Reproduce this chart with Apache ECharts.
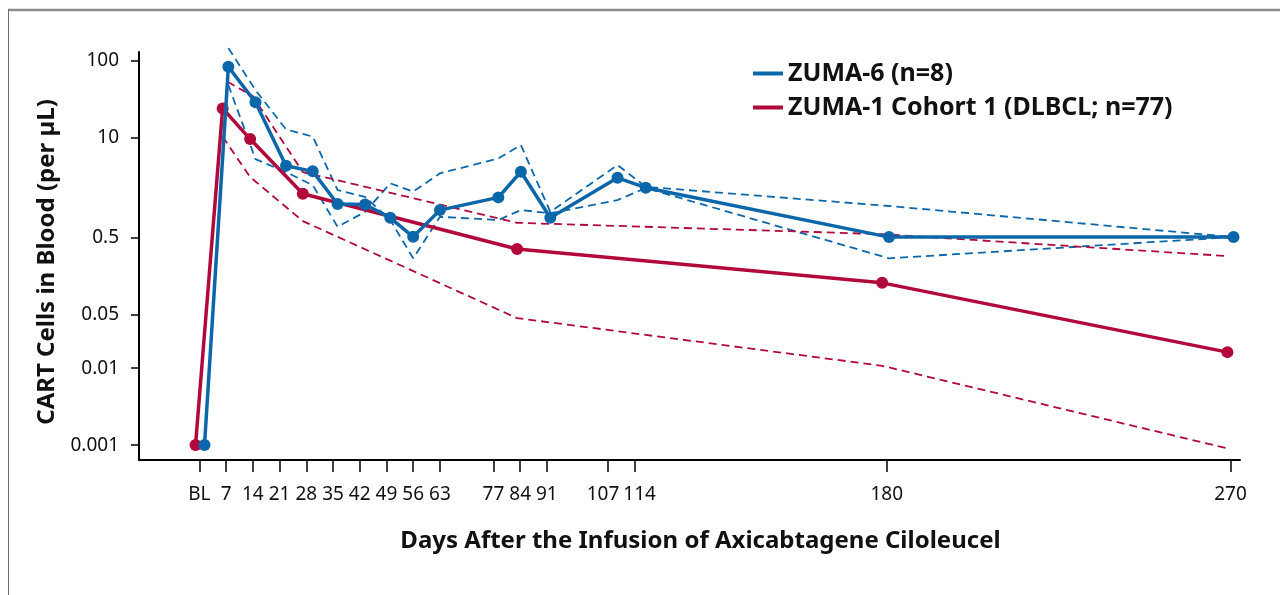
<!DOCTYPE html>
<html>
<head>
<meta charset="utf-8">
<script src="https://cdn.jsdelivr.net/npm/echarts@6/dist/echarts.min.js"></script>
<style>
html,body{margin:0;padding:0;background:#fff;}
#c{width:1280px;height:595px;}
</style>
</head>
<body>
<div id="c"></div>
<script>
// ---- data ----
const xTickDays = [0, 7, 14, 21, 28, 35, 42, 49, 56, 63, 77, 84, 91, 107, 114, 180, 270];
const xTickLabels = ['BL', '7', '14', '21', '28', '35', '42', '49', '56', '63', '77', '84', '91', '107', '114', '180', '270'];
const yTickValues = [0.001, 0.01, 0.05, 0.5, 10, 100];
const yTickLabels = ['0.001', '0.01', '0.05', '0.5', '10', '100'];

// ZUMA-6 (n=8): mean and the two dashed bounds
const zuma6Days = [1.35, 7.6, 14.7, 22.7, 29.7, 36.2, 43.4, 50.0, 56.0, 63.0, 78.3, 84.2, 91.9, 109.5, 116.9, 180.6, 270.8];
const zuma6Mean = [0.001, 83.5, 28.8, 4.3, 3.64, 1.37, 1.35, 0.906, 0.513, 1.14, 1.67, 3.6, 0.906, 3.0, 2.23, 0.508, 0.508];
const zuma6BandDays = [7.6, 14.7, 22.7, 29.7, 36.2, 43.4, 50.0, 56.0, 63.0, 78.3, 84.2, 91.9, 109.5, 116.9, 180.6, 270.8];
const zuma6BandA = [146, 41.6, 12.8, 10.3, 2.08, 1.69, 0.846, 0.269, 0.933, 0.846, 1.14, 1.04, 1.54, 2.21, 0.269, 0.508];
const zuma6BandB = [48.4, 5.26, 3.56, 2.41, 0.692, 1.08, 2.54, 1.98, 3.43, 5.37, 8.0, 1.08, 4.40, 2.29, 1.29, 0.508];

// ZUMA-1 Cohort 1 (DLBCL; n=77): mean and dashed bounds
const zuma1Days = [-1, 6.1, 13.3, 27.1, 83.2, 178.8, 269.2];
const zuma1Mean = [0.001, 24.0, 9.58, 1.86, 0.355, 0.129, 0.0162];
const zuma1UpperDays = [7.4, 14.0, 27.1, 83.2, 178.8, 269.2];
const zuma1Upper = [53.3, 34.7, 3.56, 0.78, 0.555, 0.288];
const zuma1LowerDays = [6.1, 13.3, 27.1, 83.2, 178.8, 269.2];
const zuma1Lower = [10.3, 3.07, 0.821, 0.0449, 0.01076, 0.000906];

const BLUE = '#0b67aa';
const RED = '#b1093b';
const FONT = 'Noto Sans';

function pairs(xs, ys) { return xs.map((x, i) => [x, ys[i]]); }

const dashStyle = (c) => ({ color: c, width: 1.8, type: [8, 5] });

const chart = echarts.init(document.getElementById('c'), null, { renderer: 'canvas' });
chart.setOption({
  animation: false,
  backgroundColor: '#fff',
  textStyle: { fontFamily: FONT },
  grid: { left: 139, right: 40, top: 52, bottom: 135, containLabel: false, outerBoundsMode: 'none' },
  legend: {
    data: ['ZUMA-6 (n=8)', 'ZUMA-1 Cohort 1 (DLBCL; n=77)'],
    orient: 'vertical',
    left: 753,
    top: 61,
    padding: 0,
    itemWidth: 30,
    itemHeight: 4,
    itemGap: 9,
    icon: 'rect',
    textStyle: { fontFamily: FONT, fontSize: 25, fontWeight: 'bold', color: '#111' }
  },
  xAxis: {
    type: 'value',
    min: -15.8,
    max: 272.5,
    name: 'Days After the Infusion of Axicabtagene Ciloleucel',
    nameLocation: 'middle',
    nameGap: 69,
    nameTextStyle: { fontFamily: FONT, fontSize: 24, fontWeight: 'bold', color: '#111', padding: [0, 0, 0, 22] },
    axisLine: { show: true, onZero: false, lineStyle: { color: '#000', width: 2 } },
    axisTick: { show: true, customValues: xTickDays, length: 12, lineStyle: { color: '#000', width: 1.5 } },
    axisLabel: {
      customValues: xTickDays,
      margin: 25,
      fontFamily: FONT, fontSize: 19, color: '#111',
      formatter: (v) => {
        const i = xTickDays.indexOf(Math.round(v));
        if (i < 0) return '';
        const t = xTickLabels[i];
        if (t === '107') return t + '\u00a0\u00a0';
        if (t === '114') return '\u00a0\u00a0' + t;
        return t;
      }
    },
    splitLine: { show: false }
  },
  yAxis: {
    type: 'log',
    logBase: 10,
    min: 0.00064,
    max: 130,
    name: 'CART Cells in Blood (per µL)',
    nameLocation: 'middle',
    nameGap: 73,
    nameTextStyle: { fontFamily: FONT, fontSize: 24, fontWeight: 'bold', color: '#111', padding: [0, 12, 0, 0] },
    axisLine: { show: true, onZero: false, lineStyle: { color: '#000', width: 2 } },
    axisTick: { show: true, customValues: yTickValues, length: 8, lineStyle: { color: '#000', width: 1.5 } },
    axisLabel: {
      customValues: yTickValues,
      margin: 20,
      fontFamily: FONT, fontSize: 19, color: '#111',
      formatter: (v) => {
        let best = 0, bd = Infinity;
        yTickValues.forEach((t, i) => { const d = Math.abs(Math.log10(t) - Math.log10(v)); if (d < bd) { bd = d; best = i; } });
        return yTickLabels[best];
      }
    },
    splitLine: { show: false },
    minorTick: { show: false }
  },
  series: [
    { name: 'zuma6A', type: 'line', data: pairs(zuma6BandDays, zuma6BandA), showSymbol: false, symbol: 'none', lineStyle: dashStyle(BLUE), clip: false, z: 2, silent: true },
    { name: 'zuma6B', type: 'line', data: pairs(zuma6BandDays, zuma6BandB), showSymbol: false, symbol: 'none', lineStyle: dashStyle(BLUE), z: 2, silent: true },
    { name: 'zuma1U', type: 'line', data: pairs(zuma1UpperDays, zuma1Upper), showSymbol: false, symbol: 'none', lineStyle: dashStyle(RED), z: 2, silent: true },
    { name: 'zuma1L', type: 'line', data: pairs(zuma1LowerDays, zuma1Lower), showSymbol: false, symbol: 'none', lineStyle: dashStyle(RED), z: 2, silent: true },
    { name: 'ZUMA-1 Cohort 1 (DLBCL; n=77)', type: 'line', data: pairs(zuma1Days, zuma1Mean), symbol: 'circle', symbolSize: 12,
      itemStyle: { color: RED }, lineStyle: { color: RED, width: 3.5 }, z: 3 },
    { name: 'ZUMA-6 (n=8)', type: 'line', data: pairs(zuma6Days, zuma6Mean), symbol: 'circle', symbolSize: 12,
      itemStyle: { color: BLUE }, lineStyle: { color: BLUE, width: 3.5 }, z: 4 }
  ],
  graphic: [
    { type: 'line', shape: { x1: 8, y1: 10, x2: 1280, y2: 10 }, style: { stroke: '#8c8c8c', lineWidth: 2.5 }, silent: true },
    { type: 'line', shape: { x1: 8.5, y1: 9, x2: 8.5, y2: 595 }, style: { stroke: '#6e6e6e', lineWidth: 1 }, silent: true }
  ]
});
</script>
</body>
</html>
